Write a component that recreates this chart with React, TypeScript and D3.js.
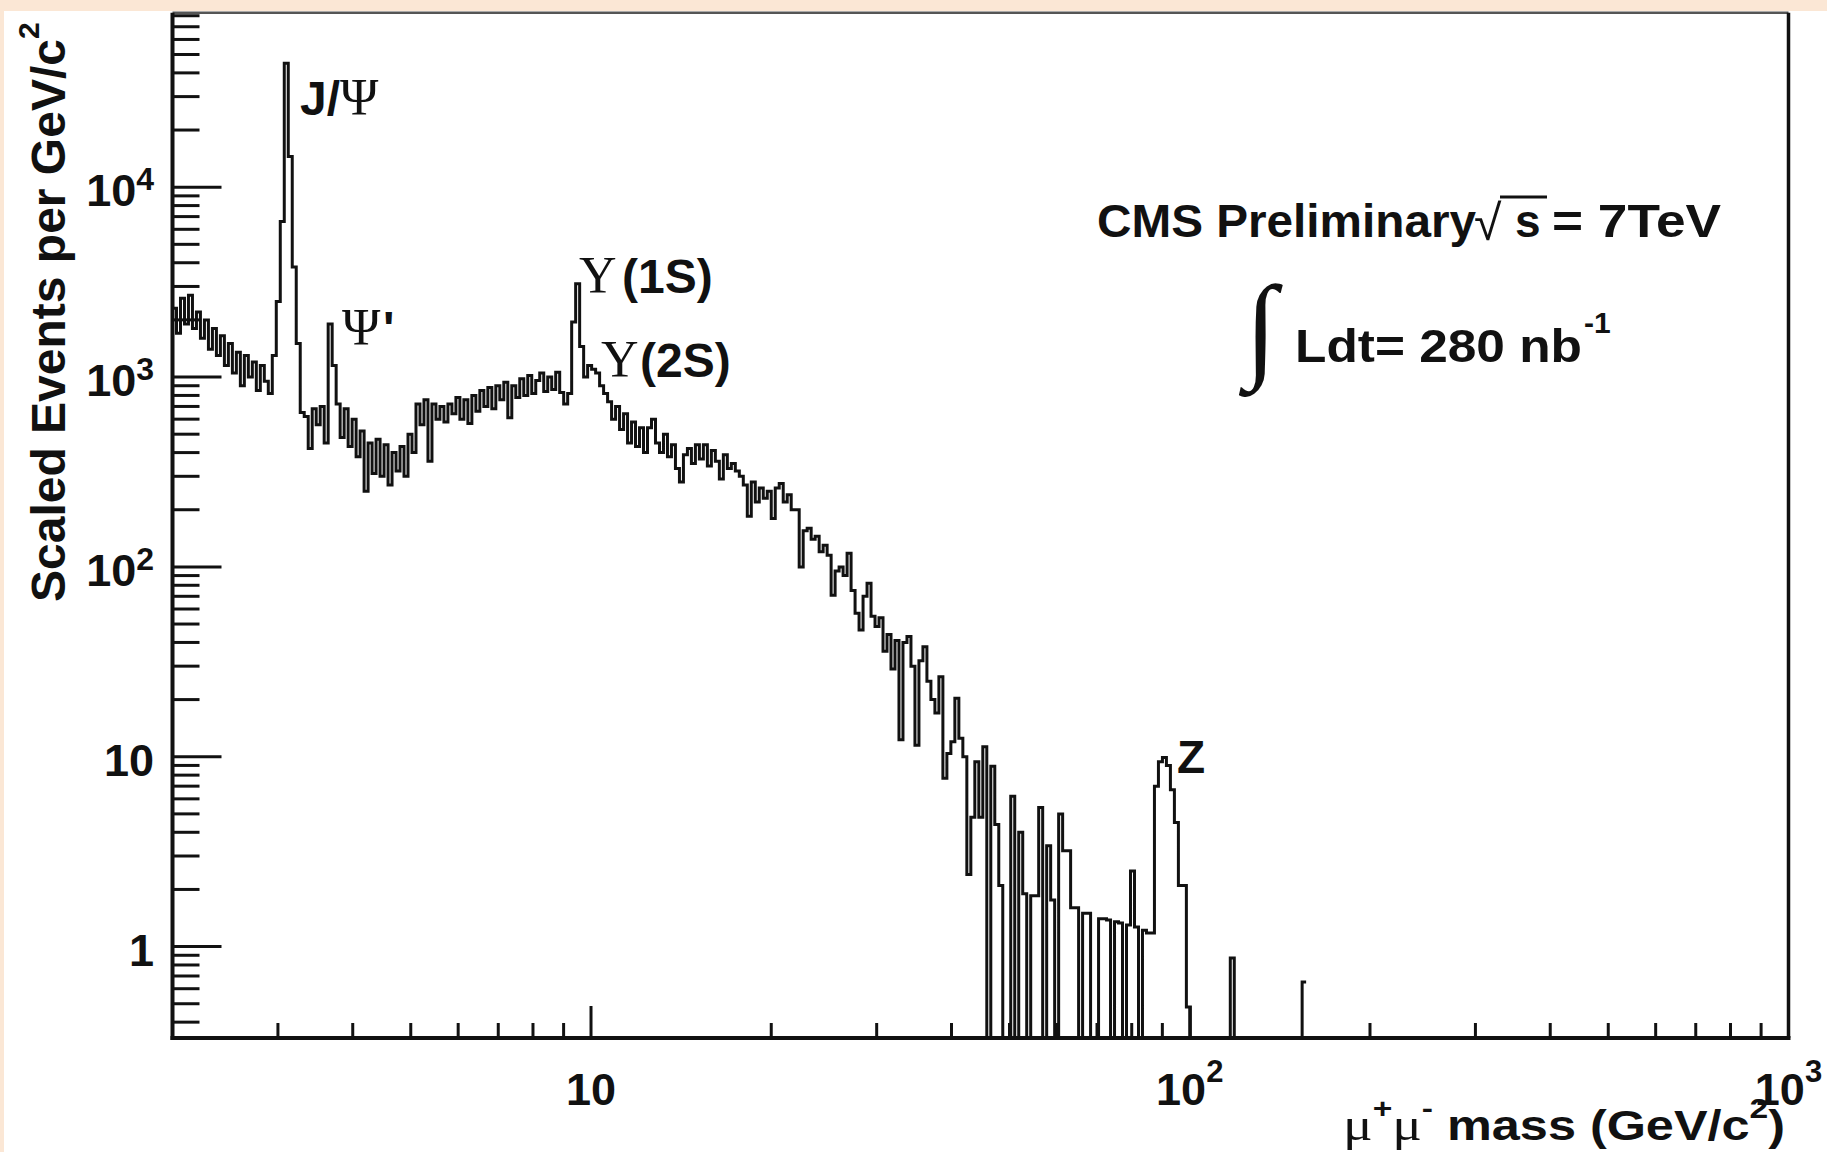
import React from "react";
import * as d3 from "d3";

// Histogram binning: equal-width bins in log10(mass)
const MASS_MIN = 2;
const MASS_MAX = 1000;
const BINS_PER_DECADE = 150;
const Y_MIN = 0.33;
const Y_MAX = 83000;

// Scaled events per GeV/c^2, bin by bin (zero = empty bin)
const BINS_2_TO_3 = [
  2300, 1700, 2600, 1900, 2700, 1800, 2200, 1600, 2000, 1400, 1800, 1300, 1650,
  1150, 1500, 1050, 1350, 900, 1300, 1000, 1200, 850, 1150, 950, 820, 1300,
];
const BINS_JPSI_PSI2S = [
  2500, 6600, 45000, 14500, 3800, 1500, 650, 620, 420, 680, 560, 700, 450, 1900,
  1150, 720,
];
const BINS_3_8_TO_9_3 = [
  480, 680, 430, 600, 380, 520, 250, 450, 310, 470, 300, 440, 270, 400, 320, 430,
  300, 500, 400, 720, 560, 760, 360, 720, 600, 700, 580, 720, 640, 780, 600, 760,
  570, 800, 660, 850, 700, 880, 680, 900, 760, 940, 610, 900, 780, 980, 800, 1020,
  820, 960, 1050, 840, 1000, 860, 1060, 830, 720, 820,
];
const BINS_UPSILON = [1950, 3100, 1450, 1000, 1150, 1100, 1050, 900, 820];
const BINS_10_9_TO_19_4 = [
  740, 600, 700, 530, 640, 450, 580, 430, 540, 400, 540, 600, 450, 400, 500, 380,
  440, 330, 280, 390, 420, 350, 440, 370, 440, 340, 410, 360, 290, 390, 330, 350,
  320, 300, 270, 185, 280, 220, 260,
];
const BINS_19_4_TO_40 = [
  230, 250, 180, 260, 275, 220, 240, 200, 200, 100, 155, 160, 140, 145, 120, 130,
  115, 71, 95, 100, 90, 118, 75, 57, 46.5, 70, 82, 55, 48.5, 54, 36, 44, 29, 41,
  12.3, 40, 43, 30, 11.5, 32, 38, 25, 20, 17, 26.4, 7.7, 10.4, 12, 20.3, 12.5, 10,
];
const BINS_40_TO_102 = [
  2.4, 4.8, 9.4, 4.8, 11.3, 0, 8.9, 4.4, 2.1, 0, 0, 6.2, 0, 4.0, 1.9, 0, 1.85,
  1.85, 5.4, 0, 3.4, 1.76, 0, 5.0, 3.2, 3.2, 1.6, 1.6, 0, 1.5, 1.5, 0, 0, 1.4, 1.4,
  1.38, 0, 1.35, 1.33, 0, 1.3, 2.5, 1.27, 0, 1.22, 1.18, 1.18, 7.0, 9.4, 9.9, 9.0,
  6.7, 4.5, 2.1, 2.1, 0.48,
];
const BINS_ABOVE_102 = [
  0, 0, 0, 0, 0, 0, 0, 0, 0, 0, 0.87, 0, 0, 0, 0, 0, 0, 0, 0, 0, 0, 0, 0, 0, 0, 0,
  0, 0, 0.65,
];

const COUNTS = [
  ...BINS_2_TO_3,
  ...BINS_JPSI_PSI2S,
  ...BINS_3_8_TO_9_3,
  ...BINS_UPSILON,
  ...BINS_10_9_TO_19_4,
  ...BINS_19_4_TO_40,
  ...BINS_40_TO_102,
  ...BINS_ABOVE_102,
];

// Axis labels: mantissa and exponent
const X_LABELS = [
  { value: 10, base: "10", exp: "" },
  { value: 100, base: "10", exp: "2" },
  { value: 1000, base: "10", exp: "3" },
];
const Y_LABELS = [
  { value: 1, base: "1", exp: "" },
  { value: 10, base: "10", exp: "" },
  { value: 100, base: "10", exp: "2" },
  { value: 1000, base: "10", exp: "3" },
  { value: 10000, base: "10", exp: "4" },
];

const W = 1827;
const H = 1152;
const FRAME = { left: 172.5, right: 1788.5, top: 12.7, bottom: 1038 };
const SANS = "'Liberation Sans', Arial, Helvetica, sans-serif";
const SERIF = "'Liberation Serif', 'Times New Roman', serif";
const INK = "#111";

export default function App() {
  const x = d3.scaleLog().domain([MASS_MIN, MASS_MAX]).range([FRAME.left, FRAME.right]);
  const y = d3.scaleLog().domain([Y_MIN, Y_MAX]).range([FRAME.bottom, FRAME.top]);

  const edge = (i: number) => MASS_MIN * Math.pow(10, i / BINS_PER_DECADE);
  const steps: [number, number][] = [];
  COUNTS.forEach((c, i) => {
    const v = Math.max(c, Y_MIN);
    steps.push([edge(i), v], [edge(i + 1), v]);
  });
  const histPath = d3
    .line<[number, number]>()
    .x((d) => x(d[0]))
    .y((d) => y(d[1]))(steps) as string;

  const xMajor = [10, 100, 1000];
  const xMinor: number[] = [];
  [1, 10, 100].forEach((d) => {
    for (let k = 2; k <= 9; k++) {
      const m = k * d;
      if (m > MASS_MIN && m < MASS_MAX) xMinor.push(m);
    }
  });
  const yMajor = [1, 10, 100, 1000, 10000];
  const yMinor: number[] = [];
  for (let e = -1; e <= 4; e++) {
    for (let k = 2; k <= 9; k++) {
      const v = k * Math.pow(10, e);
      if (v > Y_MIN && v < Y_MAX) yMinor.push(v);
    }
  }

  return (
    <svg
      width={W}
      height={H}
      viewBox={`0 0 ${W} ${H}`}
      style={{ position: "absolute", left: 0, top: 0, display: "block" }}
    >
      <rect x={0} y={0} width={W} height={H} fill="#fbe7d5" />
      <rect x={4} y={11} width={W - 4} height={H - 11} fill="#ffffff" />

      <defs>
        <clipPath id="plotArea">
          <rect
            x={FRAME.left}
            y={FRAME.top}
            width={FRAME.right - FRAME.left}
            height={FRAME.bottom - FRAME.top}
          />
        </clipPath>
      </defs>

      {/* dimuon mass histogram */}
      <path
        d={histPath}
        fill="none"
        stroke={INK}
        strokeWidth={3}
        strokeLinejoin="miter"
        clipPath="url(#plotArea)"
      />

      {/* frame */}
      <line x1={FRAME.left} x2={FRAME.right} y1={FRAME.top} y2={FRAME.top} stroke="#555" strokeWidth={2.5} />
      <line x1={FRAME.right} x2={FRAME.right} y1={FRAME.top} y2={FRAME.bottom} stroke={INK} strokeWidth={3.5} />
      <line x1={FRAME.left} x2={FRAME.left} y1={FRAME.top} y2={FRAME.bottom + 2} stroke={INK} strokeWidth={4} />
      <line x1={FRAME.left - 2} x2={FRAME.right + 2} y1={FRAME.bottom} y2={FRAME.bottom} stroke={INK} strokeWidth={4} />

      {/* x ticks */}
      {xMajor.map((m) => (
        <line key={`xM${m}`} x1={x(m)} x2={x(m)} y1={FRAME.bottom} y2={FRAME.bottom - 32} stroke={INK} strokeWidth={3} />
      ))}
      {xMinor.map((m) => (
        <line key={`xm${m}`} x1={x(m)} x2={x(m)} y1={FRAME.bottom} y2={FRAME.bottom - 15} stroke={INK} strokeWidth={3} />
      ))}
      {/* y ticks */}
      {yMajor.map((v) => (
        <line key={`yM${v}`} x1={FRAME.left} x2={FRAME.left + 49} y1={y(v)} y2={y(v)} stroke={INK} strokeWidth={3} />
      ))}
      {yMinor.map((v) => (
        <line key={`ym${v}`} x1={FRAME.left} x2={FRAME.left + 27} y1={y(v)} y2={y(v)} stroke={INK} strokeWidth={3} />
      ))}

      {/* tick labels */}
      <g fontFamily={SANS} fontWeight="bold" fill={INK}>
        {Y_LABELS.map((l) => (
          <text key={`yl${l.value}`} x={154} y={y(l.value) + 19} textAnchor="end" fontSize={45}>
            {l.base}
            {l.exp && (
              <tspan fontSize={32} dy={-16}>
                {l.exp}
              </tspan>
            )}
          </text>
        ))}
        {X_LABELS.map((l) => (
          <text key={`xl${l.value}`} x={x(l.value)} y={1105} textAnchor="middle" fontSize={45}>
            {l.base}
            {l.exp && (
              <tspan fontSize={31} dy={-23}>
                {l.exp}
              </tspan>
            )}
          </text>
        ))}
      </g>

      {/* axis titles */}
      <text
        transform="translate(65,602) rotate(-90)"
        fontFamily={SANS}
        fontWeight="bold"
        fontSize={48}
        fill={INK}
      >
        Scaled Events per GeV/c
        <tspan fontSize={30} dy={-26}>
          2
        </tspan>
      </text>
      <g transform="translate(1785,1140) scale(1.2,1)" fill={INK}>
        <text x={0} y={0} textAnchor="end" fontFamily={SANS} fontWeight="bold" fontSize={42}>
          <tspan fontFamily={SERIF} fontWeight="normal" fontSize={46}>μ</tspan>
          <tspan fontSize={28} dy={-22}>+</tspan>
          <tspan fontFamily={SERIF} fontWeight="normal" fontSize={46} dy={22}>μ</tspan>
          <tspan fontSize={28} dy={-22}>-</tspan>
          <tspan dy={22}> mass (GeV/c</tspan>
          <tspan fontSize={28} dy={-22}>2</tspan>
          <tspan dy={22}>)</tspan>
        </text>
      </g>

      {/* resonance labels */}
      <g fill={INK}>
        <text x={300} y={115} fontFamily={SANS} fontWeight="bold" fontSize={48}>J/</text>
        <text x={340} y={115} fontFamily={SERIF} fontSize={52}>Ψ</text>
        <text x={342} y={345} fontFamily={SERIF} fontSize={52}>Ψ</text>
        <text x={383} y={345} fontFamily={SANS} fontWeight="bold" fontSize={48}>'</text>
        <text x={579} y={293} fontFamily={SERIF} fontSize={52}>Υ</text>
        <text x={622} y={293} fontFamily={SANS} fontWeight="bold" fontSize={48}>(1S)</text>
        <text x={601} y={377} fontFamily={SERIF} fontSize={52}>Υ</text>
        <text x={640} y={377} fontFamily={SANS} fontWeight="bold" fontSize={48}>(2S)</text>
        <text x={1177} y={773} fontFamily={SANS} fontWeight="bold" fontSize={46}>Z</text>
      </g>

      {/* run information */}
      <g fill={INK} fontFamily={SANS} fontWeight="bold">
        <text x={1097} y={237} fontSize={46} textLength={379} lengthAdjust="spacingAndGlyphs">
          CMS Preliminary
        </text>
        <text x={1474} y={240} fontSize={50} fontWeight="normal">√</text>
        <line x1={1500} x2={1547} y1={197} y2={197} stroke={INK} strokeWidth={3} />
        <text x={1515} y={237} fontSize={46}>s</text>
        <text x={1552} y={237} fontSize={46} textLength={169} lengthAdjust="spacingAndGlyphs">
          = 7TeV
        </text>
        <text x={1245} y={366} fontFamily={SERIF} fontWeight="normal" fontSize={116}>∫</text>
        <text x={1295} y={362} fontSize={46} textLength={287} lengthAdjust="spacingAndGlyphs">
          Ldt= 280 nb
        </text>
        <text x={1584} y={333} fontSize={30}>-1</text>
      </g>
    </svg>
  );
}
